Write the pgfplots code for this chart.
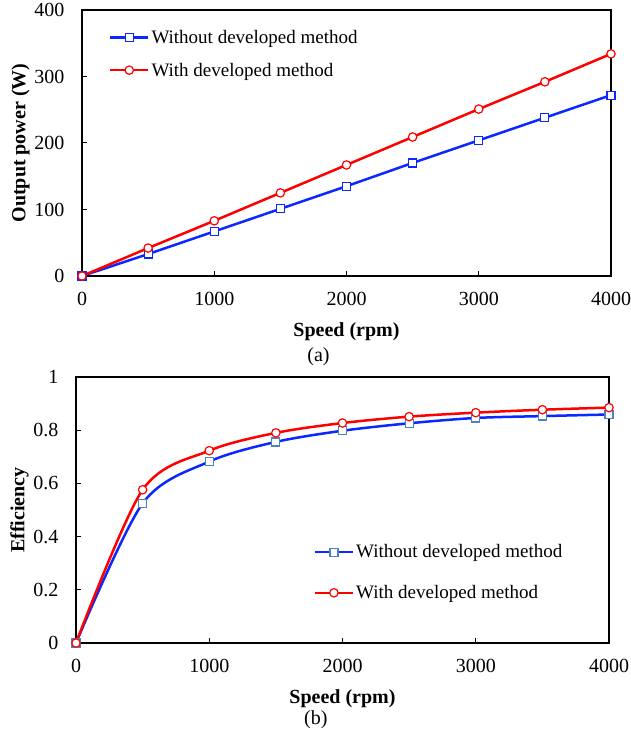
\documentclass[border=0pt]{standalone}
\usepackage{fontspec}
\setmainfont{Liberation Serif}
\usepackage{pgfplots}
\pgfplotsset{compat=1.18}
\definecolor{myblue}{RGB}{10,40,255}
\definecolor{myred}{RGB}{255,0,0}
\definecolor{steel}{RGB}{79,129,189}
\begin{document}
\begin{tikzpicture}[x=1pt,y=1pt]
\useasboundingbox (0,0) rectangle (631,738);
\pgfplotsset{
  every axis/.append style={
    scale only axis,
    axis line style={line width=1.3pt},
    tick style={black, line width=1pt},
    tick align=inside, major tick length=5pt,
    xtick pos=bottom, ytick pos=left,
    tick label style={font=\fontsize{20}{22}\selectfont},
    xticklabel style={yshift=-13pt},
    yticklabel style={xshift=-14pt},
    label style={font=\fontsize{20}{22}\selectfont\bfseries},
    xlabel style={yshift=-10pt},
    ylabel style={yshift=-2pt},
    /pgf/number format/assume math mode=true,
    /pgf/number format/1000 sep={},
    legend style={draw=none, fill=none, font=\fontsize{19}{22}\selectfont},
    legend cell align=left,
    legend image code/.code={\draw[mark repeat=2,mark phase=2] plot coordinates {(0pt,0pt) (19pt,0pt) (38pt,0pt)};},
    clip=false,
  },
}
% ---------- (a) ----------
\begin{axis}[
  at={(82pt,462pt)}, anchor=south west,
  width=529pt, height=266pt,
  xmin=0, xmax=4000, ymin=0, ymax=400,
  xtick={0,1000,2000,3000,4000},
  ytick={0,100,200,300,400},
  xlabel={Speed (rpm)}, ylabel={Output power (W)},
  legend style={at={(axis description cs:0.045,0.94)}, anchor=north west, row sep=14pt},
]
\addplot[myblue, line width=2.5pt, mark=square*, mark size=4pt, mark options={solid, fill=white, draw=myblue, line width=1.2pt}]
coordinates {(0,0) (500,33) (1000,67) (1500,101) (2000,135) (2500,170) (3000,204) (3500,238) (4000,272)};
\addlegendentry{Without developed method}
\addplot[myred, line width=2.5pt, mark=*, mark size=4.2pt, mark options={solid, fill=white, draw=myred, line width=1.2pt}]
coordinates {(0,0) (500,42) (1000,83) (1500,125) (2000,167) (2500,209) (3000,251) (3500,292) (4000,334)};
\addlegendentry{With developed method}
\node[font=\fontsize{20}{22}\selectfont] at (axis description cs:0.447,-0.305) {(a)};
\end{axis}
% ---------- (b) ----------
\begin{axis}[
  at={(76pt,95pt)}, anchor=south west,
  width=533pt, height=266pt,
  xmin=0, xmax=4000, ymin=0, ymax=1,
  xtick={0,1000,2000,3000,4000},
  ytick={0,0.2,0.4,0.6,0.8,1},
  yticklabel style={/pgf/number format/fixed, /pgf/number format/precision=1},
  xlabel={Speed (rpm)}, ylabel={Efficiency},
  legend style={at={(axis description cs:0.44,0.385)}, anchor=north west, row sep=22pt},
]
\addplot[myblue, line width=2.5pt, smooth, mark=square*, mark size=4pt, mark options={solid, fill=white, draw=steel, line width=1.2pt}]
coordinates {(0,0) (500,0.525) (1000,0.682) (1500,0.756) (2000,0.798) (2500,0.826) (3000,0.846) (3500,0.853) (4000,0.859)};
\addlegendentry{Without developed method}
\addplot[myred, line width=2.5pt, smooth, mark=*, mark size=4.2pt, mark options={solid, fill=white, draw=myred, line width=1.2pt}]
coordinates {(0,0) (500,0.576) (1000,0.723) (1500,0.79) (2000,0.827) (2500,0.851) (3000,0.866) (3500,0.877) (4000,0.885)};
\addlegendentry{With developed method}
\node[font=\fontsize{20}{22}\selectfont] at (axis description cs:0.45,-0.29) {(b)};
\end{axis}
\end{tikzpicture}
\end{document}
